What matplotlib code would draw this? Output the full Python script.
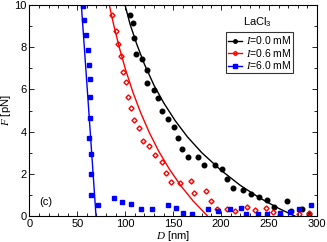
import numpy as np
import matplotlib
matplotlib.use("Agg")
import matplotlib.pyplot as plt
from matplotlib.lines import Line2D
from matplotlib.ticker import MultipleLocator

plt.rcParams["font.family"] = ["Liberation Sans", "DejaVu Sans"]
plt.rcParams["mathtext.fontset"] = "custom"
plt.rcParams["mathtext.rm"] = "Liberation Sans"
plt.rcParams["mathtext.it"] = "Liberation Serif:italic"

# I = 0.0 mM
d_black = [105, 108.5, 109.5, 111.3, 117.6, 122.2, 123, 129.8, 134.6, 138.1,
           144.4, 151.3, 155.5, 159.6, 165.3, 176.4, 182.3, 193.5, 201.1, 206.7,
           212.3, 222.4, 231.1, 239.1, 247.8, 255.2, 268.8, 273.3, 284.4, 291.7]
f_black = [9.53, 9.16, 8.42, 7.69, 7.44, 6.93, 6.3, 5.97, 5.59, 5.0,
           4.61, 4.22, 3.71, 3.19, 2.81, 2.81, 2.4, 2.42, 2.21, 1.75,
           1.33, 1.23, 1.07, 0.91, 0.76, 0.41, 0.73, 0.25, 0.32, 0.08]

# I = 0.6 mM
d_red = [86.5, 90, 92.8, 95.3, 97.5, 101.2, 102.6, 105.7, 109.2, 114.4,
         118.1, 124.9, 131.1, 138.4, 142.3, 147.5, 157.6, 168.4, 172.2, 184.1,
         189.3, 196.2, 206, 214.7, 227, 235.6, 246.6, 254.2, 261.4, 281.4, 291.8]
f_red = [9.51, 8.77, 8.14, 7.58, 6.84, 6.36, 5.64, 5.13, 4.55, 4.18,
         3.56, 3.3, 2.91, 2.57, 2.05, 1.61, 1.55, 1.64, 1.1, 1.17,
         0.7, 0.35, 0.32, 0.22, 0.42, 0.3, 0.39, 0.2, 0.07, 0.11, 0.14]

# I = 6.0 mM
d_blue = [55.6, 57, 59, 60.8, 61.8, 62.9, 63.2, 63.5, 62.2, 63.9, 63.9, 64.6,
          71.2, 88.3, 97, 106.5, 116, 128.3, 144.4, 153, 160.4, 170, 186.8,
          197, 209.2, 220.7, 226.5, 238.4, 247.8, 261.8, 271.9, 281.5, 294]
f_blue = [9.95, 9.29, 8.6, 7.87, 7.15, 6.5, 5.65, 4.63, 3.71, 2.95, 1.99, 0.98,
          0.52, 0.87, 0.65, 0.58, 0.32, 0.33, 0.52, 0.39, 0.16, 0.11, 0.32,
          0.22, 0.35, 0.40, 0.08, 0.08, 0.11, 0.16, 0.18, 0.35, 0.52]

# fit curves
fit_d_black = [99.8, 105, 112, 120, 130, 140, 152, 165, 180, 200, 220, 240, 260, 277]
fit_f_black = [10, 9.1, 8.15, 7.2, 6.2, 5.38, 4.53, 3.75, 3.0, 2.17, 1.46, 0.87, 0.37, 0]
fit_d_red = [83.4, 88, 94, 100, 108, 116, 125, 135, 146, 158, 171, 186]
fit_f_red = [10, 9.05, 7.96, 6.99, 5.87, 4.91, 3.97, 3.07, 2.23, 1.44, 0.71, 0]
fit_d_blue = [54.2, 62, 69.5]
fit_f_blue = [10, 4.95, 0]

labels = ["$I$=0.0 mM", "$I$=0.6 mM", "$I$=6.0 mM"]

fig = plt.figure(figsize=(3.27, 2.42), dpi=100)
ax = fig.add_axes([0.09, 0.107, 0.879, 0.872])

ax.plot(fit_d_black, fit_f_black, color="black", lw=1.0)
ax.plot(fit_d_red, fit_f_red, color="red", lw=1.0)
ax.plot(fit_d_blue, fit_f_blue, color="blue", lw=1.0)

ax.plot(d_black, f_black, "o", color="black", ms=3.3, mec="black", ls="none")
ax.plot(d_red, f_red, "D", mfc="none", mec="red", mew=1.0, ms=2.6, ls="none")
ax.plot(d_blue, f_blue, "s", color="blue", ms=2.5, ls="none")

ax.set_xlim(0, 300)
ax.set_ylim(0, 10)
ax.xaxis.set_major_locator(MultipleLocator(50))
ax.xaxis.set_minor_locator(MultipleLocator(10))
ax.yaxis.set_major_locator(MultipleLocator(2))
ax.yaxis.set_minor_locator(MultipleLocator(1))
ax.tick_params(which="both", direction="in", top=True, right=True,
               labelsize=8, pad=2)
ax.tick_params(which="major", length=3.5, width=0.6)
ax.tick_params(which="minor", length=2, width=0.6)
for s in ax.spines.values():
    s.set_linewidth(0.8)

ax.set_xlabel("$D$ [nm]", fontsize=8, labelpad=0)
ax.set_ylabel("$F$ [pN]", fontsize=8, labelpad=1)

ax.text(10, 0.65, "(c)", fontsize=8, va="center", ha="left")
ax.text(0.795, 0.92, "LaCl$_3$", transform=ax.transAxes, fontsize=8,
        ha="center", va="center")

handles = [
    Line2D([], [], color="black", marker="o", ms=2.5, lw=1.0),
    Line2D([], [], color="red", marker="D", mfc="none", ms=2.2, lw=1.0),
    Line2D([], [], color="blue", marker="s", ms=2.2, lw=1.0),
]
leg = ax.legend(handles, labels, loc="upper left", bbox_to_anchor=(0.683, 0.872),
                fontsize=7.5, frameon=True, fancybox=False, borderpad=0.2,
                handlelength=1.4, handletextpad=0.3, labelspacing=0.05,
                borderaxespad=0)
leg.get_frame().set_edgecolor("black")
leg.get_frame().set_linewidth(0.8)

fig.savefig("out.png", dpi=100)
